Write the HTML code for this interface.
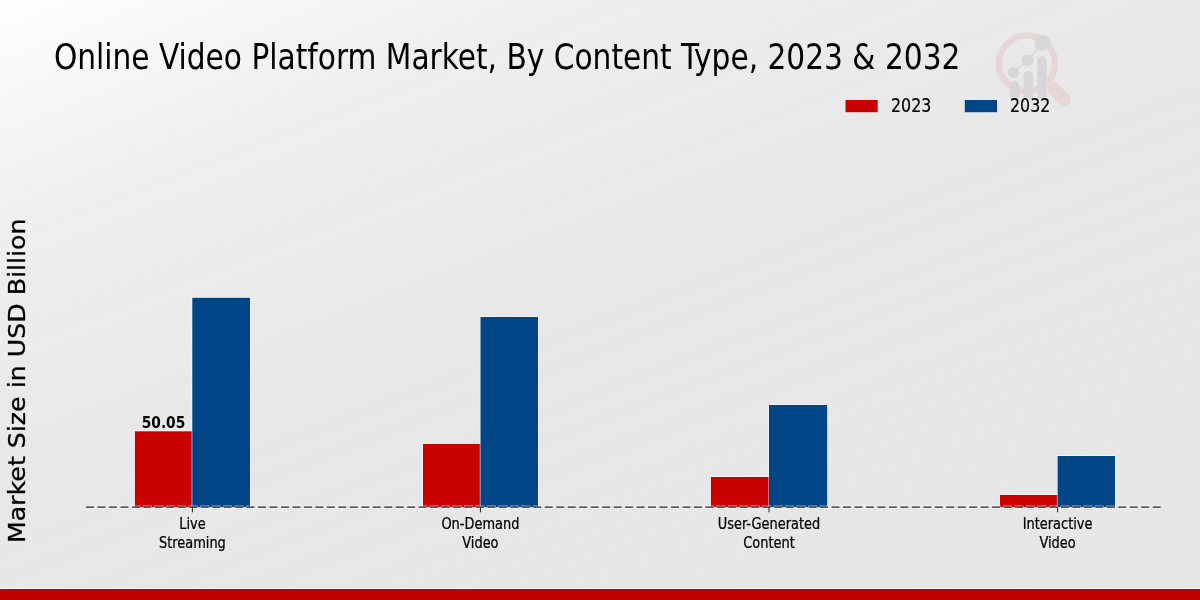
<!DOCTYPE html>
<html lang="en">
<head>
<meta charset="utf-8">
<title>Online Video Platform Market, By Content Type, 2023 &amp; 2032</title>
<style>
html,body{margin:0;padding:0;}
body{width:1200px;height:600px;overflow:hidden;background:#e8e8e8;font-family:"DejaVu Sans Condensed","DejaVu Sans","Liberation Sans",sans-serif;}
svg{display:block;position:absolute;left:0;top:0;}
.t{font-family:"DejaVu Sans Condensed","DejaVu Sans","Liberation Sans",sans-serif;fill:#000;}
.w{font-family:"DejaVu Sans","Liberation Sans",sans-serif;fill:#000;}
</style>
</head>
<body>
<svg width="1200" height="600" viewBox="0 0 1200 600">
  <defs>
    <linearGradient id="bg" x1="0" y1="0" x2="372.4" y2="931" gradientUnits="userSpaceOnUse">
      <stop offset="0.0000" stop-color="#ffffff"/>
      <stop offset="0.0694" stop-color="#f9f9f9"/>
      <stop offset="0.1389" stop-color="#f4f4f4"/>
      <stop offset="0.2083" stop-color="#efefef"/>
      <stop offset="0.2778" stop-color="#ececec"/>
      <stop offset="0.3611" stop-color="#eaeaea"/>
      <stop offset="0.4444" stop-color="#e8e8e8"/>
      <stop offset="0.5556" stop-color="#e7e7e7"/>
      <stop offset="0.8333" stop-color="#e6e6e6"/>
      <stop offset="1.0000" stop-color="#e6e6e6"/>
    </linearGradient>
    <pattern id="st" width="160" height="160" patternUnits="userSpaceOnUse" patternTransform="rotate(-21)">
      <rect x="0" y="10" width="160" height="14" fill="#ffffff" fill-opacity="0.05"/>
      <rect x="0" y="45" width="160" height="6" fill="#ffffff" fill-opacity="0.05"/>
      <rect x="0" y="70" width="160" height="22" fill="#ffffff" fill-opacity="0.04"/>
      <rect x="0" y="110" width="160" height="8" fill="#ffffff" fill-opacity="0.06"/>
      <rect x="0" y="135" width="160" height="12" fill="#ffffff" fill-opacity="0.04"/>
    </pattern>
    <filter id="bl" x="0" y="0" width="100%" height="100%"><feGaussianBlur stdDeviation="2.5"/></filter>
  </defs>
  <rect x="0" y="0" width="1200" height="600" fill="url(#bg)"/>
  <rect x="0" y="0" width="1200" height="600" fill="url(#st)" filter="url(#bl)"/>
  <g>
    <circle cx="1027" cy="63.5" r="28" fill="none" stroke="#e7d6d8" stroke-width="6.5"/>
    <line x1="1053.5" y1="88.5" x2="1064.5" y2="99.5" stroke="#e7d6d8" stroke-width="12.5" stroke-linecap="round"/>
    <g fill="#d7d7da" stroke="none">
      <path d="M1010 98.5V85.7a4.7 4.7 0 0 1 9.4 0V98.5z"/>
      <path d="M1023.6 98.5V75.7a4.7 4.7 0 0 1 9.4 0V98.5z"/>
      <path d="M1037.4 98.5V60.7a4.7 4.7 0 0 1 9.4 0V98.5z"/>
      <circle cx="1013.5" cy="72.5" r="5.5"/>
      <circle cx="1027.5" cy="60.5" r="6"/>
      <circle cx="1042.5" cy="43" r="8"/>
    </g>
    <polyline points="1013.5,72.5 1027.5,60.5 1042.5,43" fill="none" stroke="#d7d7da" stroke-width="1.2"/>
  </g>
<text class="t" transform="translate(53.9 68.7) scale(0.9263 1)" font-size="35.6" text-anchor="start">Online Video Platform Market, By Content Type, 2023 &amp; 2032</text>
<rect x="845.5" y="100" width="32.2" height="12.2" fill="#c80000"/>
<text class="t" transform="translate(891 111.8) scale(0.88 1)" font-size="20" text-anchor="start" stroke="#000" stroke-width="0.2">2023</text>
<rect x="964.8" y="100" width="32.2" height="12.2" fill="#004586"/>
<text class="t" transform="translate(1010 111.8) scale(0.88 1)" font-size="20" text-anchor="start" stroke="#000" stroke-width="0.2">2032</text>
<text class="w" transform="translate(25 543) rotate(-90) scale(1 0.9)" font-size="25.25" stroke="#000" stroke-width="0.35">Market Size in USD Billion</text>
<rect x="134.1" y="430.5" width="59.0" height="77.7" fill="#ffffff" fill-opacity="0.55"/>
<rect x="134.9" y="431.3" width="57.4" height="75.9" fill="#c80000"/>
<rect x="191.5" y="297.0" width="59.3" height="211.2" fill="#ffffff" fill-opacity="0.55"/>
<rect x="192.3" y="297.8" width="57.7" height="209.4" fill="#004586"/>
<rect x="422.2" y="443.2" width="59.1" height="65.0" fill="#ffffff" fill-opacity="0.55"/>
<rect x="423" y="444" width="57.5" height="63.2" fill="#c80000"/>
<rect x="479.7" y="316.2" width="59.1" height="192.0" fill="#ffffff" fill-opacity="0.55"/>
<rect x="480.5" y="317" width="57.5" height="190.2" fill="#004586"/>
<rect x="710.1" y="476.2" width="59.7" height="32.0" fill="#ffffff" fill-opacity="0.55"/>
<rect x="710.9" y="477" width="58.1" height="30.2" fill="#c80000"/>
<rect x="768.2" y="404.2" width="59.8" height="104.0" fill="#ffffff" fill-opacity="0.55"/>
<rect x="769" y="405" width="58.2" height="102.2" fill="#004586"/>
<rect x="999.2" y="494.2" width="59.2" height="14.0" fill="#ffffff" fill-opacity="0.55"/>
<rect x="1000" y="495" width="57.6" height="12.2" fill="#c80000"/>
<rect x="1056.8" y="455.2" width="59.0" height="53.0" fill="#ffffff" fill-opacity="0.55"/>
<rect x="1057.6" y="456" width="57.4" height="51.2" fill="#004586"/>
<text class="t" transform="translate(163.5 427.8) scale(0.97 1)" font-size="15.8" text-anchor="middle" font-weight="bold">50.05</text>
<line x1="85.5" y1="507.2" x2="1164.5" y2="507.2" stroke="#ffffff" stroke-opacity="0.55" stroke-width="3.2" stroke-dasharray="9 2.47"/>
<line x1="86" y1="507.2" x2="1164" y2="507.2" stroke="#222222" stroke-width="1.25" stroke-dasharray="8 3.47"/>
<line x1="192.4" y1="507" x2="192.4" y2="512.3" stroke="#222" stroke-width="1"/>
<line x1="480.4" y1="507" x2="480.4" y2="512.3" stroke="#222" stroke-width="1"/>
<line x1="769" y1="507" x2="769" y2="512.3" stroke="#222" stroke-width="1"/>
<line x1="1057.6" y1="507" x2="1057.6" y2="512.3" stroke="#222" stroke-width="1"/>
<text class="t" transform="translate(192.4 529) scale(0.9 1)" font-size="16" text-anchor="middle" stroke="#000" stroke-width="0.25">Live</text>
<text class="t" transform="translate(192.4 547.9) scale(0.9 1)" font-size="16" text-anchor="middle" stroke="#000" stroke-width="0.25">Streaming</text>
<text class="t" transform="translate(480.4 529) scale(0.9 1)" font-size="16" text-anchor="middle" stroke="#000" stroke-width="0.25">On-Demand</text>
<text class="t" transform="translate(480.4 547.9) scale(0.9 1)" font-size="16" text-anchor="middle" stroke="#000" stroke-width="0.25">Video</text>
<text class="t" transform="translate(769 529) scale(0.9 1)" font-size="16" text-anchor="middle" stroke="#000" stroke-width="0.25">User-Generated</text>
<text class="t" transform="translate(769 547.9) scale(0.9 1)" font-size="16" text-anchor="middle" stroke="#000" stroke-width="0.25">Content</text>
<text class="t" transform="translate(1057.6 529) scale(0.9 1)" font-size="16" text-anchor="middle" stroke="#000" stroke-width="0.25">Interactive</text>
<text class="t" transform="translate(1057.6 547.9) scale(0.9 1)" font-size="16" text-anchor="middle" stroke="#000" stroke-width="0.25">Video</text>
<rect x="0" y="587.8" width="1200" height="1.4" fill="#ffffff" fill-opacity="0.85"/>
<rect x="0" y="589" width="1200" height="11" fill="#c00000"/>
</svg>
</body>
</html>
